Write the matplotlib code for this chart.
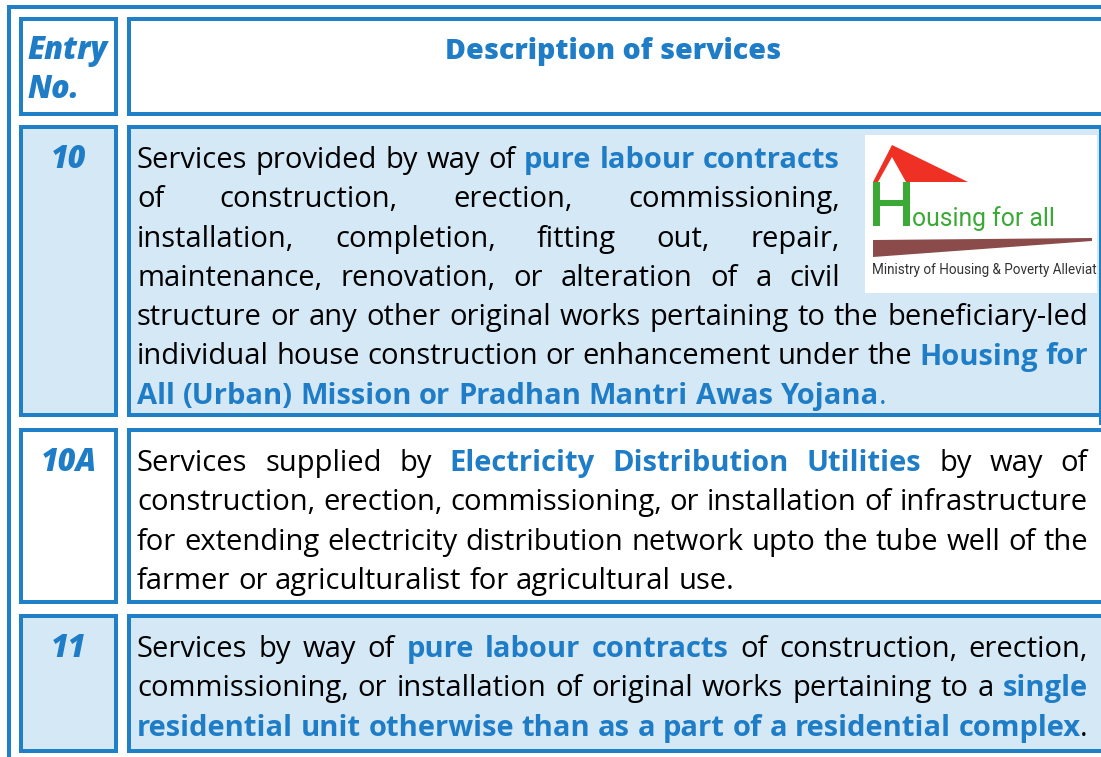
import matplotlib
matplotlib.use('Agg')
import matplotlib.pyplot as plt
from matplotlib.patches import Rectangle, Polygon

# table content: each line is a list of (text, style) pieces
# style 0 = plain black, 1 = bold blue, 2 = plain blue
headers = ['Entry', 'No.', 'Description of services']
entries = ['10', '10A', '11']

row10_lines = [
    [("Services provided by way of ", 0), ("pure labour contracts", 1)],
    [("of construction, erection, commissioning,", 0)],
    [("installation, completion, fitting out, repair,", 0)],
    [("maintenance, renovation, or alteration of a civil", 0)],
    [("structure or any other original works pertaining to the beneficiary-led", 0)],
    [("individual house construction or enhancement under the ", 0), ("Housing for", 1)],
    [("All (Urban) Mission or Pradhan Mantri Awas Yojana", 1), (".", 2)],
]
row10a_lines = [
    [("Services supplied by ", 0), ("Electricity Distribution Utilities", 1), (" by way of", 0)],
    [("construction, erection, commissioning, or installation of infrastructure", 0)],
    [("for extending electricity distribution network upto the tube well of the", 0)],
    [("farmer or agriculturalist for agricultural use.", 0)],
]
row11_lines = [
    [("Services by way of ", 0), ("pure labour contracts", 1), (" of construction, erection,", 0)],
    [("commissioning, or installation of original works pertaining to a ", 0), ("single", 1)],
    [("residential unit otherwise than as a part of a residential complex", 1), (".", 0)],
]

logo_title = 'ousing for all'
logo_sub = 'Ministry of Housing & Poverty Alleviat'

BORDER = '#1f80c8'
BLUE = '#1e7dc6'
FILL = '#d5e8f6'

plt.rcParams['font.family'] = ['Open Sans', 'DejaVu Sans']

fig = plt.figure(figsize=(11.01, 7.57), dpi=100)
ax = fig.add_axes([0, 0, 1, 1])
ax.set_xlim(0, 1101)
ax.set_ylim(757, 0)
ax.axis('off')
r = fig.canvas.get_renderer()

LW = 4 * 72 / 100  # 4 px border


def cell(x0, y0, x1, y1, fill):
    # outer edges given, border drawn inside
    ax.add_patch(Rectangle((x0 + 2, y0 + 2), x1 - x0 - 4, y1 - y0 - 4,
                           facecolor=fill, edgecolor=BORDER, lw=LW, zorder=1))


# outer frame (right and bottom lie outside the picture)
ax.plot([9, 9, 1110], [770, 7, 7], color=BORDER, lw=LW, solid_joinstyle='miter')

rows = [(17, 116, 'white'), (125, 417, FILL), (428, 604, 'white'), (614, 753, FILL)]
for y0, y1, fc in rows:
    cell(19, y0, 118, y1, fc)
    cell(127, y0, 1105, y1, fc)

# header
LABEL = dict(fontsize=22, fontweight=800, fontstyle='italic', color=BLUE, va='baseline')
ax.text(28, 59, headers[0], **LABEL)
ax.text(28, 98, headers[1], **LABEL)
ax.text(613, 59, headers[2], fontsize=20.5, fontweight=800, color=BLUE,
        ha='center', va='baseline')

# body text
STYLES = {0: dict(color='black', fontweight='normal'),
          1: dict(color=BLUE, fontweight='bold'),
          2: dict(color=BLUE, fontweight='normal')}


def split_words(line):
    words, new = [], True
    for text, st in line:
        parts = text.split(' ')
        for i, p in enumerate(parts):
            if i > 0:
                new = True
            if p == '':
                continue
            if new:
                words.append([])
                new = False
            words[-1].append((p, st))
    return words


def width(s, size, st):
    t = ax.text(0, 0, s, fontsize=size, **STYLES[st])
    w = t.get_window_extent(r).width
    t.remove()
    return w


def space_width(size):
    return width('x x', size, 0) - width('xx', size, 0)


LEFT = 137
paragraphs = [
    (row10_lines, 168, [840, 840, 840, 840, 1088, 1088, 1088]),
    (row10a_lines, 471, [1088] * 4),
    (row11_lines, 657, [1088] * 3),
]
LINE_H = 39.3

# pick the largest size at which every justified line fits
base = 20
scale = 10.0
for lines, _, rights in paragraphs:
    for line, right in list(zip(lines, rights))[:-1]:
        ws = split_words(line)
        nat = sum(width(p, base, st) for w in ws for p, st in w)
        nat += space_width(base) * (len(ws) - 1) * 1.05
        scale = min(scale, (right - LEFT) / nat)
size = min(22.5, base * scale)

for lines, y0, rights in paragraphs:
    for i, (line, right) in enumerate(zip(lines, rights)):
        y = y0 + i * LINE_H
        ws = split_words(line)
        wws = [sum(width(p, size, st) for p, st in w) for w in ws]
        if i == len(lines) - 1:
            gap = space_width(size)
        else:
            gap = (right - LEFT - sum(wws)) / (len(ws) - 1)
        x = LEFT
        for w, ww in zip(ws, wws):
            xx = x
            for p, st in w:
                ax.text(xx, y, p, fontsize=size, va='baseline', zorder=3, **STYLES[st])
                xx += width(p, size, st)
            x += ww + gap

# entry numbers
for e, (_, y, _) in zip(entries, paragraphs):
    ax.text(69, y, e, ha='center', **LABEL)

# logo
GREEN = '#3aa935'
ax.add_patch(Rectangle((865, 135), 232, 158, facecolor='white', edgecolor='none', zorder=2))
ax.add_patch(Polygon([(873, 182), (892, 145), (968, 182)], closed=True,
                     facecolor='#ee3124', edgecolor='none', zorder=3))
ax.add_patch(Polygon([(878, 182), (892, 157), (906, 182)], closed=True,
                     facecolor='white', edgecolor='none', zorder=3))
ax.add_patch(Rectangle((873, 182), 7, 44, facecolor=GREEN, edgecolor='none', zorder=3))
ax.add_patch(Rectangle((903, 182), 7, 44, facecolor=GREEN, edgecolor='none', zorder=3))
ax.add_patch(Rectangle((873, 200), 37, 6, facecolor=GREEN, edgecolor='none', zorder=3))
ax.add_patch(Polygon([(873, 240), (1092, 238), (1092, 241), (873, 257)], closed=True,
                     facecolor='#8c4b4b', edgecolor='none', zorder=3))


def fit_text(x, y, s, target, size, **kw):
    t = ax.text(x, y, s, fontsize=size, va='baseline', zorder=4, **kw)
    w = t.get_window_extent(r).width
    t.set_fontsize(size * target / w)
    return t


NARROW = ['Liberation Sans Narrow', 'Roboto', 'DejaVu Sans']
fit_text(912, 226, logo_title, 143, 20, color=GREEN, family=NARROW)
fit_text(872, 274, logo_sub, 226, 10, color='#333333', family=NARROW)

# cell border drawn over the logo edge
ax.add_patch(Rectangle((1099, 125), 10, 300, facecolor=BORDER, edgecolor='none', zorder=5))

fig.savefig('out.png', dpi=100)
